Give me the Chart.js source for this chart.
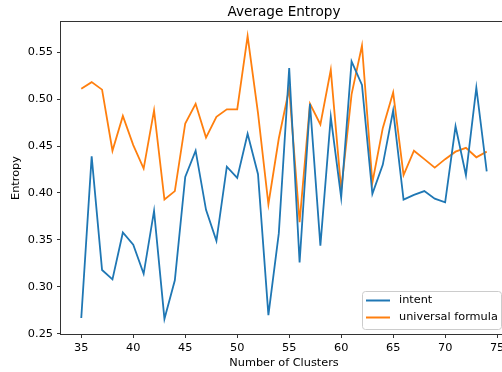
<!DOCTYPE html>
<html>
<head>
<meta charset="utf-8">
<script src="https://cdn.jsdelivr.net/npm/chart.js@4"></script>
<style>
  html, body { margin: 0; padding: 0; background: #fff; overflow: hidden; }
  #wrap { width: 512px; height: 372px; }
</style>
</head>
<body>
<div id="wrap"><canvas id="myChart" width="512" height="372"></canvas></div>
<script>
// data
var clusters = [35, 36, 37, 38, 39, 40, 41, 42, 43, 44, 45, 46, 47, 48, 49, 50, 51, 52, 53, 54,
                55, 56, 57, 58, 59, 60, 61, 62, 63, 64, 65, 66, 67, 68, 69, 70, 71, 72, 73, 74];
var intent = [0.267, 0.439, 0.318, 0.308, 0.358, 0.345, 0.314, 0.381, 0.266, 0.307,
              0.417, 0.445, 0.382, 0.349, 0.428, 0.416, 0.463, 0.420, 0.270, 0.357,
              0.533, 0.326, 0.495, 0.344, 0.481, 0.395, 0.540, 0.515, 0.399, 0.430,
              0.488, 0.393, 0.398, 0.402, 0.394, 0.390, 0.471, 0.419, 0.512, 0.423];
var universal = [0.511, 0.518, 0.510, 0.445, 0.482, 0.451, 0.426, 0.488, 0.393, 0.402,
                 0.474, 0.495, 0.459, 0.481, 0.489, 0.489, 0.567, 0.485, 0.388, 0.458,
                 0.511, 0.369, 0.495, 0.473, 0.531, 0.403, 0.505, 0.557, 0.411, 0.469,
                 0.507, 0.419, 0.445, 0.436, 0.427, 0.436, 0.444, 0.448, 0.438, 0.444];
var xTicks = [35, 40, 45, 50, 55, 60, 65, 70, 75];
var yTicks = [0.25, 0.30, 0.35, 0.40, 0.45, 0.50, 0.55];

var font = "'DejaVu Sans', sans-serif";

function toPoints(ys) {
    return clusters.map(function (c, i) { return { x: c, y: ys[i] }; });
}

// matplotlib style frame on all four sides + title centred over the axes
var frame = {
    id: 'frame',
    afterDatasetsDraw: function (chart) {
        var a = chart.chartArea, ctx = chart.ctx;
        ctx.save();
        ctx.strokeStyle = '#333';
        ctx.lineWidth = 1;
        ctx.strokeRect(Math.round(a.left) - 0.5, Math.round(a.top) - 0.5,
                       Math.round(a.right - a.left) + 1, Math.round(a.bottom - a.top) + 1);
        ctx.fillStyle = '#000';
        ctx.font = '13.6px ' + font;
        ctx.textAlign = 'center';
        ctx.textBaseline = 'middle';
        ctx.fillText('Average Entropy', (a.left + a.right) / 2, 12);
        ctx.restore();
    }
};

// legend drawn inside the plot, lower right
var innerLegend = {
    id: 'innerLegend',
    afterDraw: function (chart) {
        var a = chart.chartArea, ctx = chart.ctx;
        var w = 139, h = 38;
        var x = a.right - 6 - w, y = a.bottom - 5 - h;
        ctx.save();
        ctx.beginPath();
        ctx.roundRect(x + 0.5, y + 0.5, w, h, 3);
        ctx.fillStyle = 'rgba(255,255,255,0.8)';
        ctx.fill();
        ctx.strokeStyle = '#ccc';
        ctx.lineWidth = 1;
        ctx.stroke();
        ctx.font = '11.3px ' + font;
        ctx.textBaseline = 'middle';
        chart.data.datasets.forEach(function (ds, i) {
            var ry = y + 9.5 + i * 17;
            ctx.strokeStyle = ds.borderColor;
            ctx.lineWidth = 2;
            ctx.beginPath();
            ctx.moveTo(x + 4, ry);
            ctx.lineTo(x + 28, ry);
            ctx.stroke();
            ctx.fillStyle = '#000';
            ctx.fillText(ds.label, x + 37, ry);
        });
        ctx.restore();
    }
};

var ctx = document.getElementById('myChart').getContext('2d');

var myChart = new Chart(ctx, {
    type: 'line',
    data: {
        datasets: [{
            label: 'intent',
            data: toPoints(intent),
            borderColor: '#1f77b4',
            borderWidth: 1.8,
            pointRadius: 0,
            tension: 0
        }, {
            label: 'universal formula',
            data: toPoints(universal),
            borderColor: '#ff7f0e',
            borderWidth: 1.8,
            pointRadius: 0,
            tension: 0
        }]
    },
    options: {
        responsive: false,
        animation: false,
        devicePixelRatio: 1,
        layout: { padding: { left: 0, right: 5, top: 22, bottom: 0 } },
        scales: {
            x: {
                type: 'linear',
                min: 33.05,
                max: 75.95,
                afterBuildTicks: function (scale) {
                    scale.ticks = xTicks.map(function (v) { return { value: v }; });
                },
                afterFit: function (scale) { scale.height = 38; },
                grid: { display: true, drawOnChartArea: false, drawTicks: true, tickLength: 4, color: '#333' },
                border: { display: false },
                ticks: { color: '#000', padding: 3, font: { family: font, size: 11.3 }, maxRotation: 0 },
                title: {
                    display: true,
                    text: 'Number of Clusters',
                    color: '#000',
                    font: { family: font, size: 11.3 },
                    padding: { top: 0, bottom: 2 }
                }
            },
            y: {
                min: 0.2499,
                max: 0.582,
                afterBuildTicks: function (scale) {
                    scale.ticks = yTicks.map(function (v) { return { value: v }; });
                },
                afterFit: function (scale) { scale.width = 61; },
                grid: { display: true, drawOnChartArea: false, drawTicks: true, tickLength: 4, color: '#333' },
                border: { display: false },
                ticks: {
                    color: '#000',
                    padding: 4,
                    font: { family: font, size: 11.3 },
                    callback: function (v) { return v.toFixed(2); }
                },
                title: {
                    display: true,
                    text: 'Entropy',
                    color: '#000',
                    font: { family: font, size: 11.3 },
                    padding: { top: 9, bottom: 0 }
                }
            }
        },
        plugins: {
            legend: { display: false },
            tooltip: { enabled: false },
            title: { display: false }
        }
    },
    plugins: [frame, innerLegend]
});
</script>
</body>
</html>
